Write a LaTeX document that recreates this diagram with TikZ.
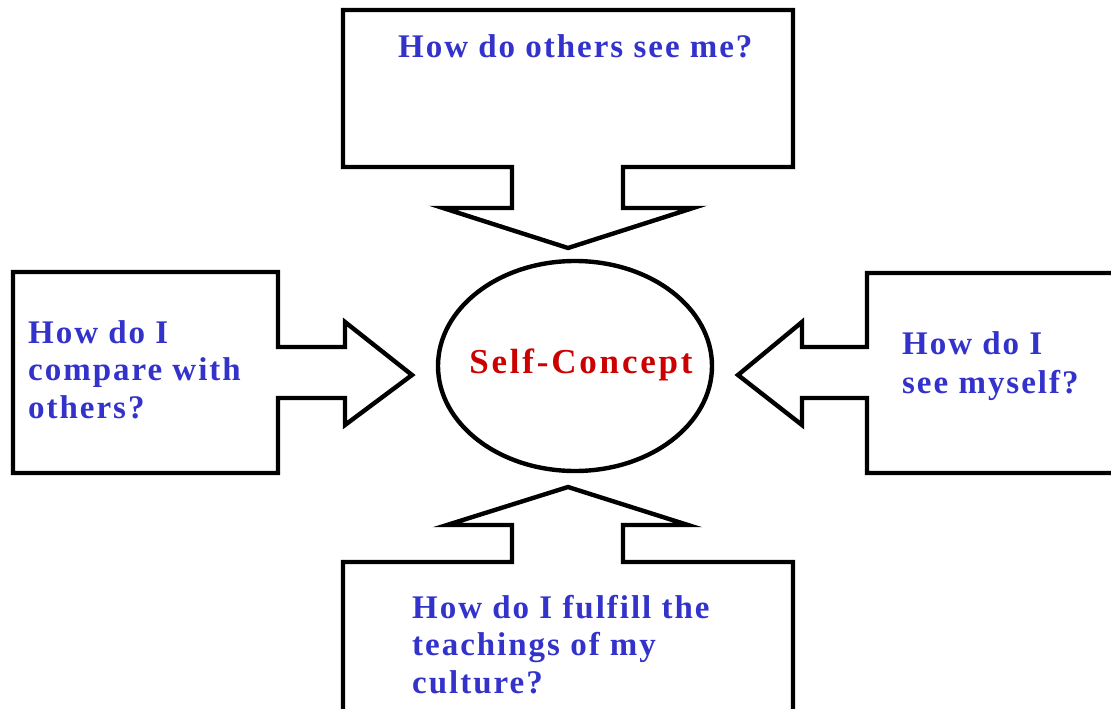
\documentclass[tikz,border=0pt]{standalone}
\usepackage{fontspec}
\usetikzlibrary{shapes.geometric}
\setmainfont{Liberation Serif}
\newfontfamily\bluefont[LetterSpace=6]{Liberation Serif}
\newfontfamily\redfont[LetterSpace=8]{Liberation Serif}
\definecolor{qblue}{HTML}{3333CC}
\definecolor{qred}{HTML}{CC0000}
\tikzset{
  callout/.style={draw=black, line width=4.4pt, line join=miter, fill=white},
  qtext/.style={text=qblue, font=\bluefont\bfseries\fontsize{33}{37.5}\selectfont, align=left, inner sep=0pt, anchor=north west},
}
\begin{document}
\begin{tikzpicture}[x=1pt,y=-1pt]
\useasboundingbox (0,0) rectangle (1111,709);
\clip (0,0) rectangle (1111,709);
\fill[white] (0,0) rectangle (1111,709);
% top callout
\draw[callout] (343,10) -- (793,10) -- (793,167) -- (623,167) -- (623,208) -- (693,208) -- (568,248) -- (443,208) -- (512,208) -- (512,167) -- (343,167) -- cycle;
% bottom callout
\draw[callout] (568,487) -- (688,525) -- (623,525) -- (623,562) -- (793,562) -- (793,730) -- (343,730) -- (343,562) -- (512,562) -- (512,525) -- (447,525) -- cycle;
% left callout
\draw[callout] (13,272) -- (278,272) -- (278,347) -- (345,347) -- (345,322) -- (412,375) -- (345,425) -- (345,398) -- (278,398) -- (278,473) -- (13,473) -- cycle;
% right callout
\draw[callout] (867,273) -- (1130,273) -- (1130,473) -- (867,473) -- (867,398) -- (802,398) -- (802,425) -- (738,375) -- (802,322) -- (802,347) -- (867,347) -- cycle;
% centre
\node[draw=black, line width=4.4pt, ellipse, minimum width=274pt, minimum height=210pt, inner sep=0pt] (self) at (575,366) {};
\node[text=qred, font=\redfont\bfseries\fontsize{35}{38}\selectfont, anchor=base, inner sep=0pt] (selftxt) at (581,373) {Self-Concept};
% texts
\node[qtext] (others) at (398,34) {How do others see me?};
\node[qtext] (compare) at (28,320) {How do I\\compare with\\others?};
\node[qtext, font=\bluefont\bfseries\fontsize{33}{39}\selectfont] (myself) at (902,331) {How do I\\see myself?};
\node[qtext] (culture) at (412,595) {How do I fulfill the\\teachings of my\\culture?};
\end{tikzpicture}
\end{document}
